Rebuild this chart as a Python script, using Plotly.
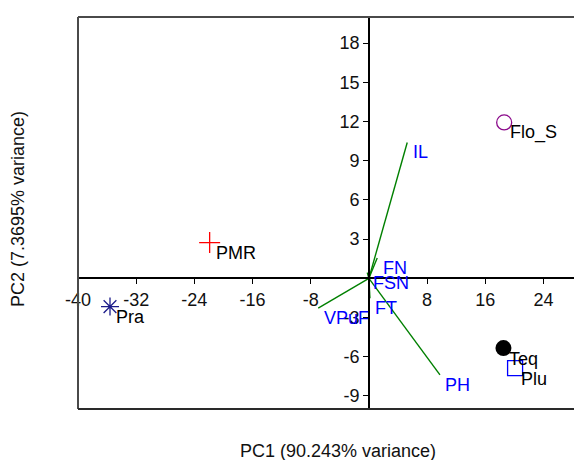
import plotly.graph_objects as go

# Sample scores
sample_names = ["Pra", "PMR", "Flo_S", "Teq", "Plu"]
sample_pc1 = [-35.6, -21.9, 18.6, 18.5, 20.1]
sample_pc2 = [-2.16, 2.74, 11.93, -5.34, -6.87]

# Variable loadings (vectors)
var_names = ["IL", "FN", "FSN", "FT", "VPuF", "PH"]
var_pc1 = [5.27, 1.14, -0.23, 0.14, -6.97, 9.77]
var_pc2 = [10.40, 1.55, 0.44, -1.52, -2.28, -7.39]

# Tick labels
x_ticks = [-40, -32, -24, -16, -8, 8, 16, 24]
x_tick_text = ["-40", "-32", "-24", "-16", "-8", "8", "16", "24"]
y_ticks = [-9, -6, -3, 3, 6, 9, 12, 15, 18]
y_tick_text = ["-9", "-6", "-3", "3", "6", "9", "12", "15", "18"]

x_title = "PC1 (90.243% variance)"
y_title = "PC2 (7.3695% variance)"

x_range = [-40, 29.3]
y_range = [-10, 20]

FONT = "Liberation Sans, Arial, sans-serif"

marker_styles = {
    "Pra": dict(symbol="asterisk-open", color="#1c1c8a", size=15, line=dict(width=1.3, color="#1c1c8a")),
    "PMR": dict(symbol="cross-thin-open", color="#ff0000", size=15, line=dict(width=1.3, color="#ff0000")),
    "Flo_S": dict(symbol="circle-open", color="#8b0a8b", size=15, line=dict(width=1.3, color="#8b0a8b")),
    "Teq": dict(symbol="circle", color="#000000", size=16, line=dict(width=0, color="#000000")),
    "Plu": dict(symbol="square-open", color="#0000ff", size=15, line=dict(width=1.3, color="#0000ff")),
}

fig = go.Figure()

# Vectors
for name, vx, vy in zip(var_names, var_pc1, var_pc2):
    fig.add_trace(go.Scatter(x=[0, vx], y=[0, vy], mode="lines",
                             line=dict(color="#008000", width=1.4),
                             showlegend=False, hoverinfo="skip"))

# Samples
for name, px, py in zip(sample_names, sample_pc1, sample_pc2):
    fig.add_trace(go.Scatter(x=[px], y=[py], mode="markers",
                             marker=marker_styles[name], name=name,
                             showlegend=False))

annotations = []
for name, vx, vy in zip(var_names, var_pc1, var_pc2):
    annotations.append(dict(x=vx, y=vy, xref="x", yref="y", text=name,
                            showarrow=False, xanchor="left", yanchor="middle",
                            xshift=3.5, yshift=-10,
                            font=dict(family=FONT, size=18, color="#0000ff")))
for name, px, py in zip(sample_names, sample_pc1, sample_pc2):
    annotations.append(dict(x=px, y=py, xref="x", yref="y", text=name,
                            showarrow=False, xanchor="left", yanchor="middle",
                            xshift=4, yshift=-10.5,
                            font=dict(family=FONT, size=18, color="#000000")))

annotations.append(dict(x=0.515, y=-0.107, xref="paper", yref="paper", text=x_title,
                        showarrow=False, xanchor="center", yanchor="middle",
                        font=dict(family=FONT, size=18, color="#111111")))
annotations.append(dict(x=-0.119, y=0.51, xref="paper", yref="paper", text=y_title,
                        showarrow=False, xanchor="center", yanchor="middle", textangle=-90,
                        font=dict(family=FONT, size=18, color="#111111")))

xpos = (0 - y_range[0]) / (y_range[1] - y_range[0])
ypos = (0 - x_range[0]) / (x_range[1] - x_range[0])

fig.update_layout(
    width=574, height=452,
    margin=dict(l=70, r=0, t=9, b=51),
    paper_bgcolor="white", plot_bgcolor="white",
    font=dict(family=FONT, size=18, color="#111111"),
    annotations=annotations,
    xaxis=dict(range=x_range, anchor="free", position=xpos,
               showgrid=False, zeroline=False, showline=True,
               linecolor="black", linewidth=1.5,
               tickmode="array", tickvals=x_ticks, ticktext=x_tick_text,
               ticks="outside", ticklen=5, tickwidth=1, tickcolor="black",
               tickfont=dict(family=FONT, size=18, color="#111111")),
    yaxis=dict(range=y_range, anchor="free", position=ypos,
               showgrid=False, zeroline=False, showline=True,
               linecolor="black", linewidth=1.5,
               tickmode="array", tickvals=y_ticks, ticktext=y_tick_text,
               ticks="outside", ticklen=5, tickwidth=1, tickcolor="black",
               tickfont=dict(family=FONT, size=18, color="#111111")),
    shapes=[
        dict(type="line", xref="paper", yref="paper", x0=0, x1=0, y0=0, y1=1,
             line=dict(color="#4a4a4a", width=2)),
        dict(type="line", xref="paper", yref="paper", x0=0, x1=1, y0=1, y1=1,
             line=dict(color="#4a4a4a", width=2)),
        dict(type="line", xref="paper", yref="paper", x0=0, x1=1, y0=0, y1=0,
             line=dict(color="#2a2a2a", width=2)),
    ],
)

fig.write_html("out.html")
